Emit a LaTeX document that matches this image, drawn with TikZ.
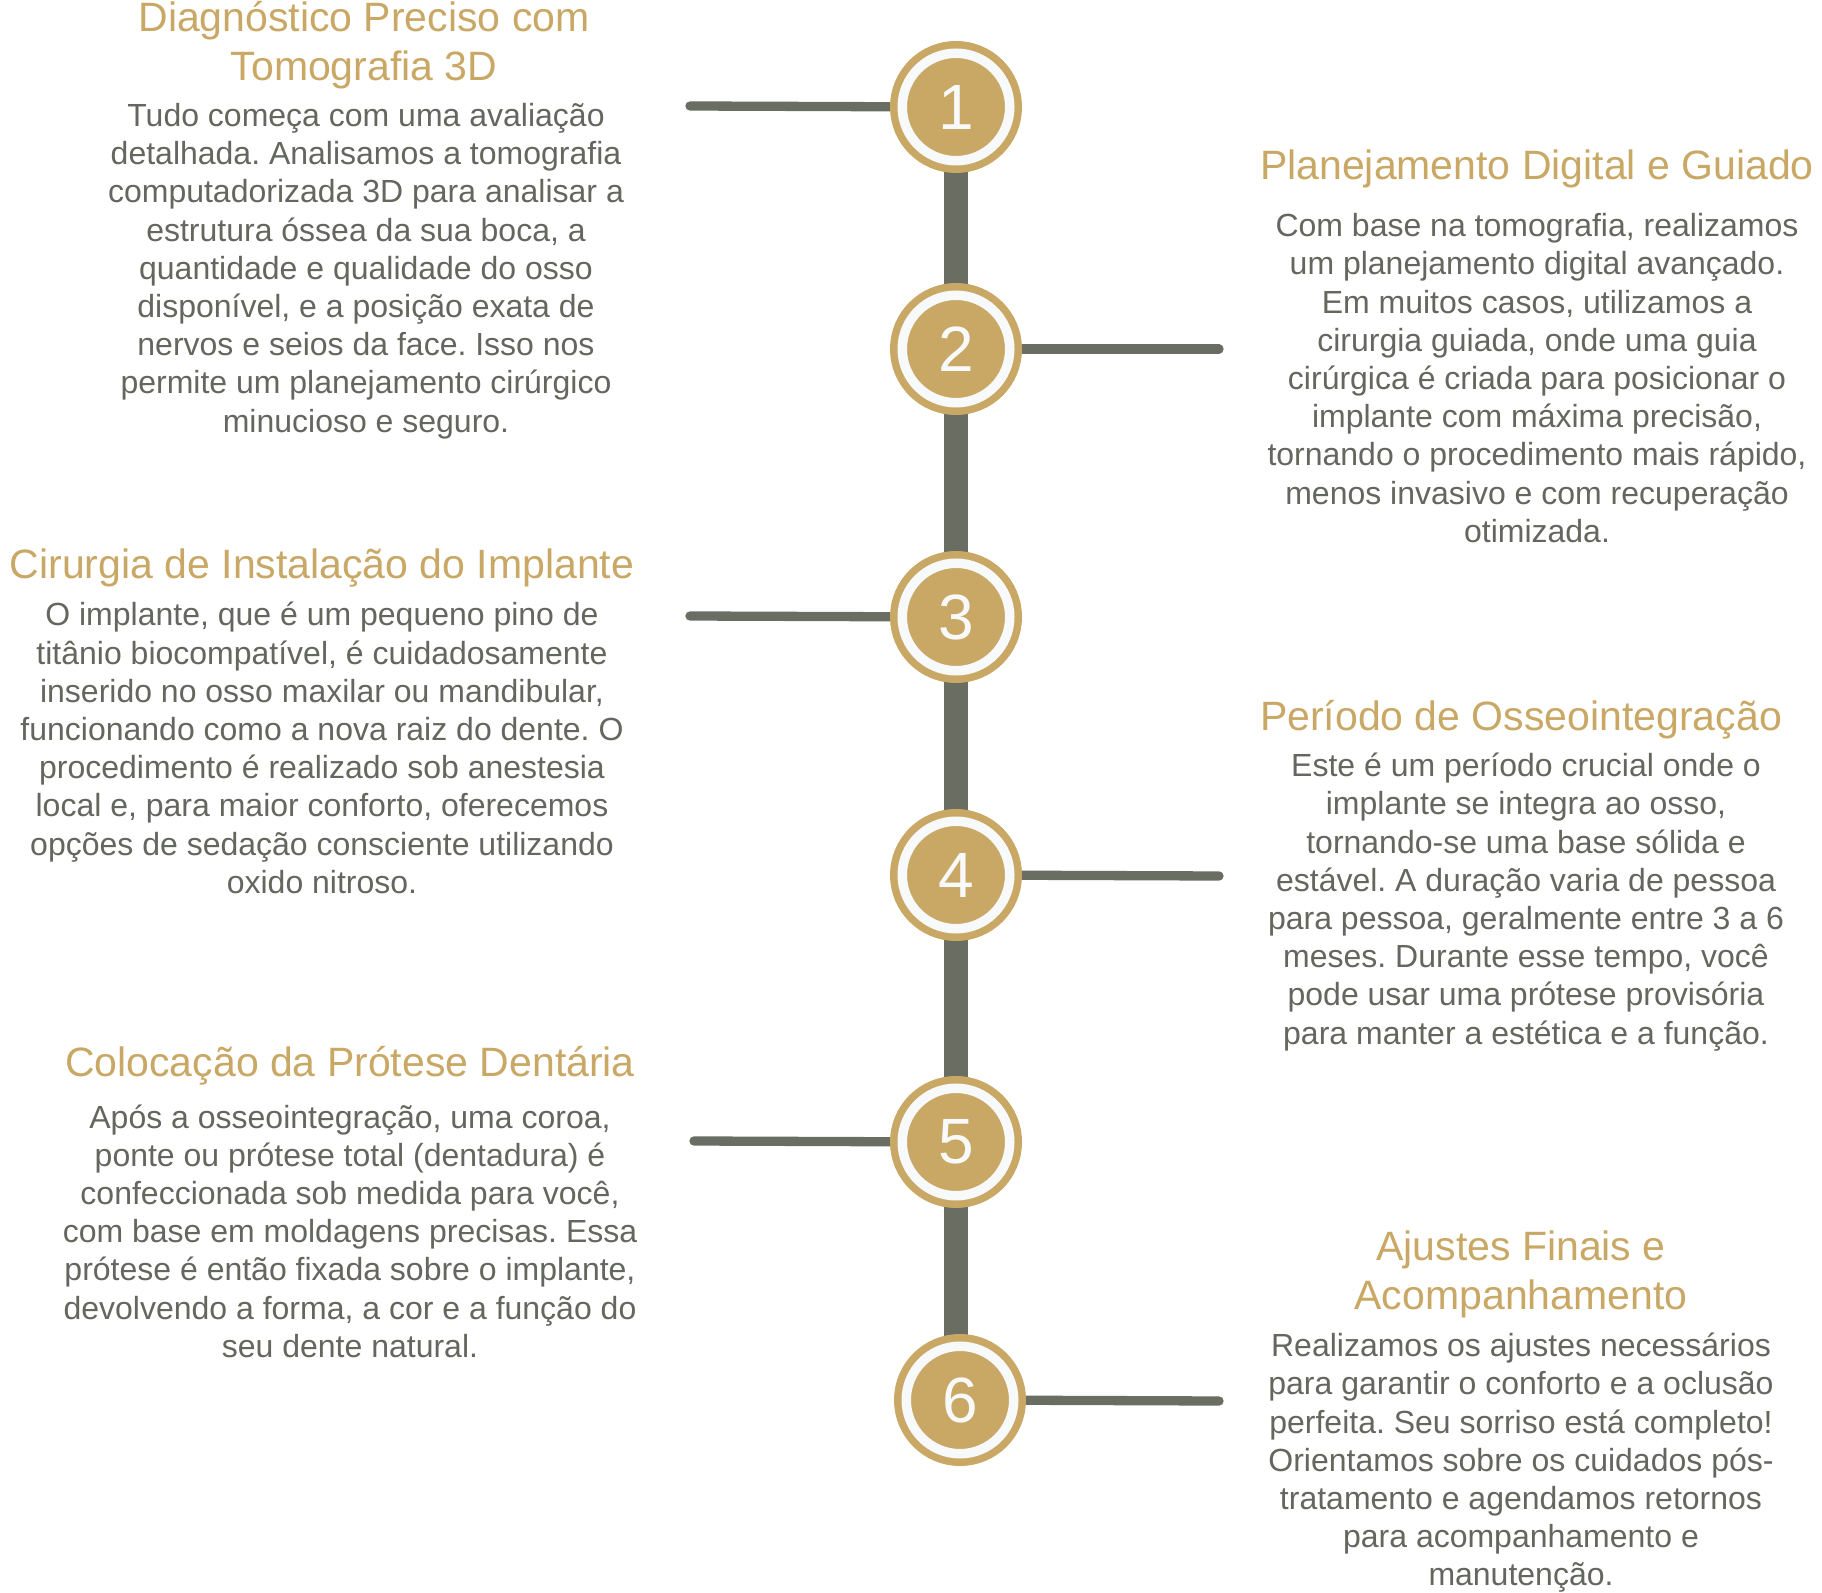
\documentclass[tikz,border=0pt]{standalone}
\usepackage{fontspec}
\setmainfont{Liberation Sans}
\usetikzlibrary{backgrounds}
\frenchspacing
\definecolor{gold}{HTML}{C9A865}
\definecolor{ink}{HTML}{64675D}
\definecolor{rail}{HTML}{6A6D62}
\definecolor{paper}{HTML}{F7F9FB}
\tikzset{
  stepDot/.style = {circle, fill=gold, draw=gold, double=paper,
    double distance=4.75pt, line width=3.75pt, minimum size=53.75pt,
    inner sep=0pt, text=paper, font=\fontsize{32}{32}\selectfont},
  stepTitle/.style = {text=gold, align=center, inner sep=0pt,
    font=\fontsize{20.5}{24.4}\selectfont},
  stepText/.style = {text=ink, align=center, inner sep=0pt,
    font=\fontsize{16}{19.1}\selectfont},
  spine/.style = {draw=rail, line width=12.2pt},
  stub/.style = {draw=rail, line width=4.65pt, line cap=round},
}

\begin{document}
\begin{tikzpicture}[x=0.5pt, y=-0.5pt]
\useasboundingbox (0,0) rectangle (1822,1593);

% timeline dots
\node[stepDot] (s1) at (956,107) {1};
\node[stepDot] (s2) at (956,349) {2};
\node[stepDot] (s3) at (956,617) {3};
\node[stepDot] (s4) at (956,875) {4};
\node[stepDot] (s5) at (956,1142) {5};
\node[stepDot] (s6) at (960,1400) {6};

% free ends of the stubs
\coordinate (e1) at (690,106);
\coordinate (e2) at (1219,349);
\coordinate (e3) at (690,616);
\coordinate (e4) at (1219,876);
\coordinate (e5) at (694,1141);
\coordinate (e6) at (1219,1401);

\begin{scope}[on background layer]
\fill[white] (0,0) rectangle (1822,1593);
\draw[spine] (s1) -- (s1 |- s6);
\draw[stub] (e1) -- (s1);
\draw[stub] (s2) -- (e2);
\draw[stub] (e3) -- (s3);
\draw[stub] (s4) -- (e4);
\draw[stub] (e5) -- (s5);
\draw[stub] (s6) -- (e6);
\end{scope}

% step 1
\node[stepTitle] (t1) at (364,45) {Diagnóstico Preciso com\\Tomografia 3D};
\node[stepText] (b1) at (366,271) {Tudo começa com uma avaliação\\
detalhada. Analisamos a tomografia\\
computadorizada 3D para analisar a\\
estrutura óssea da sua boca, a\\
quantidade e qualidade do osso\\
disponível, e a posição exata de\\
nervos e seios da face. Isso nos\\
permite um planejamento cirúrgico\\
minucioso e seguro.};

% step 2
\node[stepTitle] (t2) at (1537,169) {Planejamento Digital e Guiado};
\node[stepText] (b2) at (1537,378) {Com base na tomografia, realizamos\\
um planejamento digital avançado.\\
Em muitos casos, utilizamos a\\
cirurgia guiada, onde uma guia\\
cirúrgica é criada para posicionar o\\
implante com máxima precisão,\\
tornando o procedimento mais rápido,\\
menos invasivo e com recuperação\\
otimizada.};

% step 3
\node[stepTitle] (t3) at (322,568) {Cirurgia de Instalação do Implante};
\node[stepText] (b3) at (322,748) {O implante, que é um pequeno pino de\\
titânio biocompatível, é cuidadosamente\\
inserido no osso maxilar ou mandibular,\\
funcionando como a nova raiz do dente. O\\
procedimento é realizado sob anestesia\\
local e, para maior conforto, oferecemos\\
opções de sedação consciente utilizando\\
oxido nitroso.};

% step 4
\node[stepTitle] (t4) at (1521,720) {Período de Osseointegração};
\node[stepText] (b4) at (1526,902) {Este é um período crucial onde o\\
implante se integra ao osso,\\
tornando-se uma base sólida e\\
estável. A duração varia de pessoa\\
para pessoa, geralmente entre 3 a 6\\
meses. Durante esse tempo, você\\
pode usar uma prótese provisória\\
para manter a estética e a função.};

% step 5
\node[stepTitle] (t5) at (350,1066) {Colocação da Prótese Dentária};
\node[stepText] (b5) at (350,1231) {Após a osseointegração, uma coroa,\\
ponte ou prótese total (dentadura) é\\
confeccionada sob medida para você,\\
com base em moldagens precisas. Essa\\
prótese é então fixada sobre o implante,\\
devolvendo a forma, a cor e a função do\\
seu dente natural.};

% step 6
\node[stepTitle] (t6) at (1521,1274) {Ajustes Finais e\\Acompanhamento};
\node[stepText] (b6) at (1521,1463) {Realizamos os ajustes necessários\\
para garantir o conforto e a oclusão\\
perfeita. Seu sorriso está completo!\\
Orientamos sobre os cuidados pós-\\
tratamento e agendamos retornos\\
para acompanhamento e\\
manutenção.};
\end{tikzpicture}
\end{document}
